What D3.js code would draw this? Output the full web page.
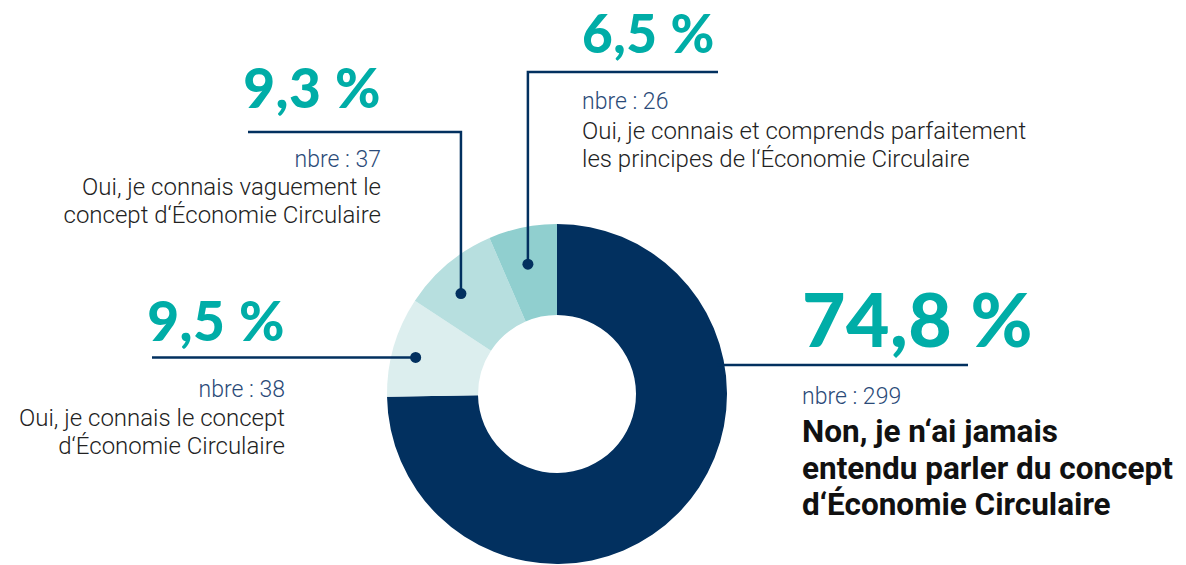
<!DOCTYPE html>
<html>
<head>
<meta charset="utf-8">
<script src="https://cdn.jsdelivr.net/npm/d3@7"></script>
<style>
  body { margin: 0; background: #fff; }
  svg { display: block; }
  .pct { font-family: Lato, sans-serif; font-weight: 900; fill: #00ada7; }
  .nbre { font-family: Roboto, sans-serif; font-weight: 300; fill: #2a4a78; font-size: 23px; }
  .lab { font-family: Roboto, sans-serif; font-weight: 300; fill: #222; font-size: 24px; }
  .labBold { font-family: Roboto, sans-serif; font-weight: 700; fill: #111; font-size: 31.5px; }
</style>
</head>
<body>
<main></main>
<script>
// data
var answers = [
  "Non, je n‘ai jamais entendu parler du concept d‘Économie Circulaire",
  "Oui, je connais le concept d‘Économie Circulaire",
  "Oui, je connais vaguement le concept d‘Économie Circulaire",
  "Oui, je connais et comprends parfaitement les principes de l‘Économie Circulaire"
];
var counts = [299, 38, 37, 26];
var percentLabels = ["74,8 %", "9,5 %", "9,3 %", "6,5 %"];
var labelLines = [
  ["Non, je n‘ai jamais", "entendu parler du concept", "d‘Économie Circulaire"],
  ["Oui, je connais le concept", "d‘Économie Circulaire"],
  ["Oui, je connais vaguement le", "concept d‘Économie Circulaire"],
  ["Oui, je connais et comprends parfaitement", "les principes de l‘Économie Circulaire"]
];
var colors = ["#02305f", "#dceeee", "#b7dfdf", "#90cfcf"];

var width = 1186, height = 565;
var cx = 557, cy = 394, rOuter = 170, rInner = 79;
var navy = "#02305f";

// leader / label layout per slice
var layout = [
  {dot: false, t: 0.5, r: 170, kind: "h", lineY: 365, endX: 968, anchor: "start", textX: 802, pctY: 347, pctSize: 75, nbreY: 404, firstY: 442, lh: 36.5, bold: true},
  {dot: true, t: 0.45, r: 146, kind: "h", endX: 152, anchor: "end", textX: 285, pctY: 341, pctSize: 55, nbreY: 397, firstY: 426, lh: 28},
  {dot: true, t: 0.39, r: 139, kind: "v", lineY: 132, endX: 248, anchor: "end", textX: 381, pctY: 108, pctSize: 55, nbreY: 167, firstY: 195, lh: 28},
  {dot: true, t: 0.46, r: 133, kind: "v", lineY: 72, endX: 718, anchor: "start", textX: 582, pctY: 53, pctSize: 53, nbreY: 109, firstY: 139, lh: 28}
];

var svg = d3.select("main").append("svg")
  .attr("width", width)
  .attr("height", height);

var pie = d3.pie().sort(null).value(function(d) { return d; });
var arcs = pie(counts);

var arc = d3.arc().innerRadius(rInner).outerRadius(rOuter);

var g = svg.append("g").attr("transform", "translate(" + cx + "," + cy + ")");

g.selectAll("path")
  .data(arcs)
  .enter().append("path")
  .attr("d", arc)
  .style("fill", function(d, i) { return colors[i]; });

// leaders
function dotPos(d, i) {
  var L = layout[i];
  var a = d.startAngle + (d.endAngle - d.startAngle) * L.t;
  return [cx + L.r * Math.sin(a), cy - L.r * Math.cos(a)];
}

var leaders = svg.append("g");
arcs.forEach(function(d, i) {
  var L = layout[i];
  var p = dotPos(d, i);
  var pts;
  if (L.kind == "v") {
    pts = [p, [p[0], L.lineY], [L.endX, L.lineY]];
  } else if (L.dot) {
    pts = [p, [L.endX, p[1]]];
  } else {
    pts = [[cx + rOuter - 10, L.lineY], [L.endX, L.lineY]];
  }
  leaders.append("path")
    .attr("d", d3.line()(pts))
    .style("fill", "none")
    .style("stroke", navy)
    .style("stroke-width", 2.5);
  if (L.dot) {
    leaders.append("circle")
      .attr("cx", p[0]).attr("cy", p[1]).attr("r", 5.5)
      .style("fill", navy);
  }
});

// labels
var labels = svg.selectAll("g.label")
  .data(arcs)
  .enter().append("g")
  .attr("class", "label");

labels.append("text")
  .attr("class", "pct")
  .attr("x", function(d, i) { return layout[i].textX; })
  .attr("y", function(d, i) { return layout[i].pctY; })
  .attr("text-anchor", function(d, i) { return layout[i].anchor; })
  .style("font-size", function(d, i) { return layout[i].pctSize + "px"; })
  .style("letter-spacing", "0.5px")
  .text(function(d, i) { return percentLabels[i]; });

labels.append("text")
  .attr("class", "nbre")
  .attr("x", function(d, i) { return layout[i].textX; })
  .attr("y", function(d, i) { return layout[i].nbreY; })
  .attr("text-anchor", function(d, i) { return layout[i].anchor; })
  .text(function(d) { return "nbre : " + d.data; });

labels.each(function(d, i) {
  var L = layout[i];
  d3.select(this).selectAll("text.desc")
    .data(labelLines[i])
    .enter().append("text")
    .attr("class", L.bold ? "desc labBold" : "desc lab")
    .attr("x", L.textX)
    .attr("y", function(s, j) { return L.firstY + j * L.lh; })
    .attr("text-anchor", L.anchor)
    .text(function(s) { return s; });
});
</script>
</body>
</html>
